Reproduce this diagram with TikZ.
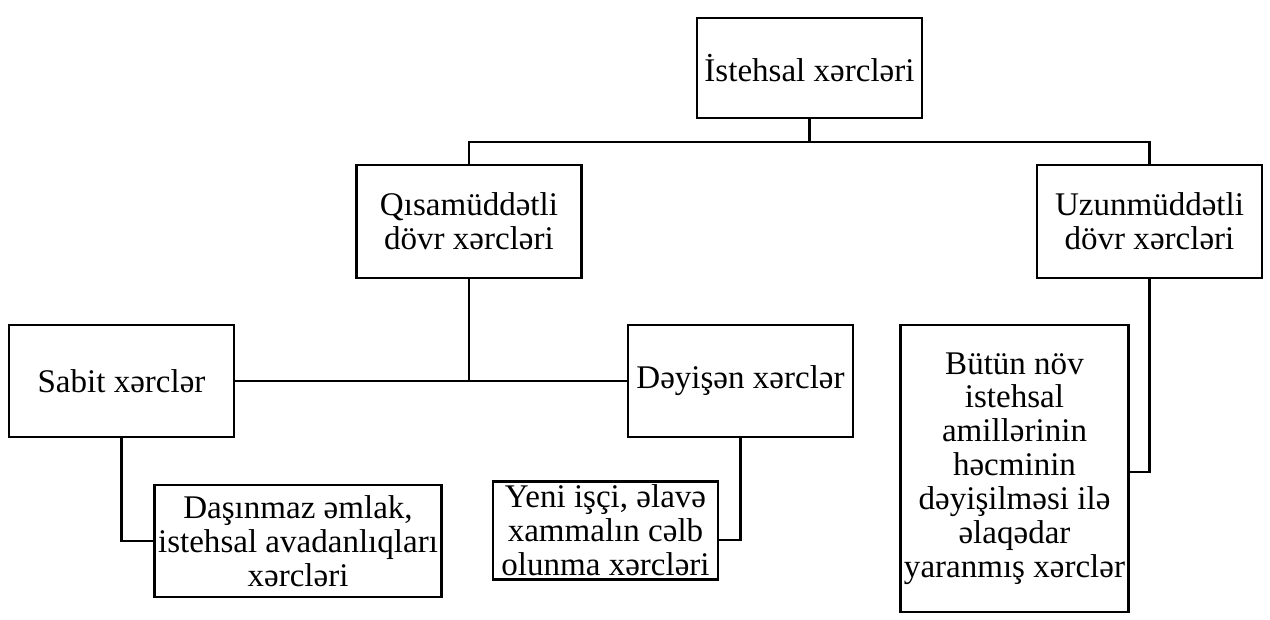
\documentclass[tikz,border=0pt]{standalone}
\usepackage{fontspec}
\setmainfont{Liberation Serif}
\usepackage{tikz}

\tikzset{
  box/.style={draw, line width=1.6pt, align=center, inner sep=2pt,
    minimum width=4.5cm, font=\fontsize{18.8}{19.3}\selectfont},
  link/.style={line width=1.6pt}
}

\begin{document}
\begin{tikzpicture}
\def\CostBox#1#2#3#4#5{
\node[box, #4] (#1) at (#2,#3) {#5};
}
\useasboundingbox (0,0) rectangle (25.4,-12.38);

\CostBox{top}{16.19}{-1.36}{minimum height=2cm}{İstehsal xərcləri}
\CostBox{qisa}{9.38}{-4.43}{minimum height=2.26cm}{Qısamüddətli\\dövr xərcləri}
\CostBox{uzun}{22.99}{-4.43}{minimum height=2.26cm}{Uzunmüddətli\\dövr xərcləri}
\CostBox{sabit}{2.43}{-7.62}{minimum height=2.24cm}{Sabit xərclər}
\CostBox{deyisen}{14.81}{-7.62}{minimum height=2.24cm}{Dəyişən xərclər}
\CostBox{dasinmaz}{5.96}{-10.82}{minimum height=2.24cm, minimum width=5.66cm}{Daşınmaz əmlak,\\istehsal avadanlıqları\\xərcləri}
\CostBox{yeni}{12.11}{-10.61}{minimum height=1.82cm}{Yeni işçi, əlavə\\xammalın cəlb\\olunma xərcləri}
\CostBox{butun}{20.29}{-9.37}{minimum height=5.74cm}{Bütün növ\\istehsal\\amillərinin\\həcminin\\dəyişilməsi ilə\\əlaqədar\\yaranmış xərclər}

\coordinate (ybar) at (0,-2.84);
\coordinate (yyeni) at (0,-10.8);
\coordinate (ybutun) at (0,-9.44);

\draw[link] (top.south) -- (top.south |- ybar) coordinate (bar);
\draw[link] (qisa.north) |- (bar) -| (uzun.north);
\draw[link] (qisa.south) -- (qisa.south |- sabit.east);
\draw[link] (sabit.east) -- (deyisen.west);
\draw[link] (sabit.south) |- (dasinmaz.west);
\draw[link] (deyisen.south) |- (yeni.east |- yyeni);
\draw[link] (uzun.south) |- (butun.east |- ybutun);
\end{tikzpicture}
\end{document}
